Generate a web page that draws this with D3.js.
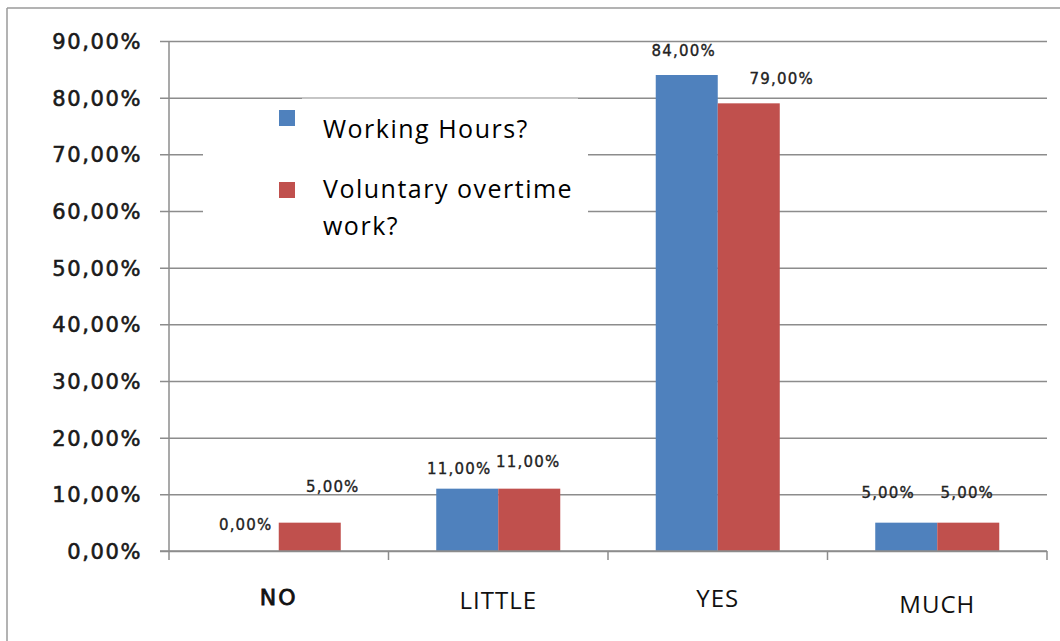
<!DOCTYPE html>
<html><head><meta charset="utf-8">
<script src="https://cdn.jsdelivr.net/npm/d3@7"></script>
<style>body{margin:0;background:#fff}svg{display:block}</style>
</head><body>
<svg id="c" width="1060" height="641"></svg>
<script>
const categories = ["NO", "LITTLE", "YES", "MUCH"];
const seriesNames = ["Working Hours?", "Voluntary overtime work?"];
const workingHours = [0.00, 0.11, 0.84, 0.05];
const voluntaryOvertime = [0.05, 0.11, 0.79, 0.05];
const yTicks = [0, 0.1, 0.2, 0.3, 0.4, 0.5, 0.6, 0.7, 0.8, 0.9];
const seriesValues = [workingHours, voluntaryOvertime];
const colors = ["#4F81BD", "#C0504D"];

// label nudges (layout only), per series per category: [dx, distance of text centre above bar top]
const labelNudge = [
  [[-2, 27], [-8, 20], [-3, 25], [-18, 30]],
  [[23, 36], [-1, 27], [33, 25], [-1, 30]]
];

const fmt = v => d3.format(".2f")(v * 100).replace(".", ",") + "%";

const svg = d3.select("#c");
const m = {l: 169, r: 1047, t: 41, b: 551};

// outer frame (top + left)
svg.append("line").attr("x1", 7).attr("x2", 1060).attr("y1", 8).attr("y2", 8).attr("stroke", "#9a9a9a").attr("stroke-width", 1.5);
svg.append("line").attr("x1", 7).attr("x2", 7).attr("y1", 8).attr("y2", 641).attr("stroke", "#9a9a9a").attr("stroke-width", 1.5);

const x0 = d3.scaleBand().domain(categories).range([m.l, m.r]).paddingInner(0.435).paddingOuter(0.2175);
const x1 = d3.scaleBand().domain([0, 1]).range([0, x0.bandwidth()]);
const y = d3.scaleLinear().domain([0, 0.9]).range([m.b, m.t]);

// gridlines with ticks
const yAxis = d3.axisLeft(y).tickValues(yTicks).tickSize(-(m.r - m.l)).tickFormat(fmt).tickPadding(0);
const gy = svg.append("g").attr("transform", `translate(${m.l},0)`).call(yAxis);
gy.select(".domain").remove();
gy.selectAll(".tick line").attr("x1", -9).attr("stroke", "#8c8c8c").attr("stroke-width", 1.5);
gy.selectAll(".tick text").attr("x", -27).attr("dy", "0.36em")
  .style("font-family", "DejaVu Sans").style("font-size", "21px").style("letter-spacing", "1.6px")
  .attr("fill", "#1a1a1a").attr("stroke", "#1a1a1a").attr("stroke-width", 0.6);

// y axis line
svg.append("line").attr("x1", m.l).attr("x2", m.l).attr("y1", m.t).attr("y2", m.b).attr("stroke", "#8c8c8c").attr("stroke-width", 1.5);

// legend white patches (cover gridlines)
svg.append("rect").attr("x", 302).attr("y", 98.5).attr("width", 276).attr("height", 150).attr("fill", "#fff");
svg.append("rect").attr("x", 203).attr("y", 110).attr("width", 385).attr("height", 140).attr("fill", "#fff");

// bars
const groups = svg.append("g").selectAll("g").data(categories).join("g")
  .attr("transform", d => `translate(${x0(d)},0)`);
groups.selectAll("rect").data((c, i) => seriesValues.map((s, k) => ({k, v: s[i]}))).join("rect")
  .attr("x", d => x1(d.k)).attr("width", x1.bandwidth())
  .attr("y", d => y(d.v)).attr("height", d => y(0) - y(d.v))
  .attr("fill", d => colors[d.k]);

// x axis
const xAxis = d3.axisBottom(x0).tickSize(0).tickFormat("");
const gx = svg.append("g").attr("transform", `translate(0,${m.b})`).call(xAxis);
gx.select(".domain").remove();
svg.append("line").attr("x1", 160).attr("x2", m.r).attr("y1", m.b).attr("y2", m.b).attr("stroke", "#8c8c8c").attr("stroke-width", 1.5);
const bounds = d3.range(categories.length + 1).map(i => m.l + i * (m.r - m.l) / categories.length);
svg.selectAll(".xt").data(bounds).join("line").attr("class", "xt")
  .attr("x1", d => d).attr("x2", d => d).attr("y1", m.b).attr("y2", m.b + 9)
  .attr("stroke", "#8c8c8c").attr("stroke-width", 1.5);

// category labels
svg.selectAll(".cat").data(categories).join("text").attr("class", "cat")
  .attr("x", d => x0(d) + x0.bandwidth() / 2)
  .attr("y", (d, i) => [605, 609, 607, 613][i])
  .attr("text-anchor", "middle")
  .style("font-family", (d, i) => i === 0 ? "DejaVu Sans" : "Open Sans")
  .style("font-size", (d, i) => i === 0 ? "22px" : "24px")
  .style("letter-spacing", (d, i) => i === 0 ? "2px" : "1px")
  .attr("fill", "#111")
  .attr("stroke", (d, i) => i === 0 ? "#111" : "none").attr("stroke-width", 0.8)
  .text(d => d);

// data labels
seriesValues.forEach((s, k) => {
  svg.selectAll(".dl" + k).data(s).join("text").attr("class", "dl" + k)
    .attr("x", (v, i) => x0(categories[i]) + x1(k) + x1.bandwidth() / 2 + labelNudge[k][i][0])
    .attr("y", (v, i) => y(v) - labelNudge[k][i][1] + 5.5)
    .attr("text-anchor", "middle")
    .style("font-family", "DejaVu Sans").style("font-size", "15px").style("letter-spacing", "1.2px")
    .attr("fill", "#222").attr("stroke", "#222").attr("stroke-width", 0.35)
    .text(v => fmt(v));
});

// legend
const lg = svg.append("g");
lg.append("rect").attr("x", 279).attr("y", 110).attr("width", 16).attr("height", 16).attr("fill", colors[0]);
lg.append("rect").attr("x", 279).attr("y", 182).attr("width", 16).attr("height", 16).attr("fill", colors[1]);
lg.append("text").attr("x", 323).attr("y", 138).text(seriesNames[0]);
const parts = ["Voluntary overtime", "work?"];
lg.append("text").attr("x", 323).attr("y", 198).text(parts[0]);
lg.append("text").attr("x", 323).attr("y", 235).text(parts[1]);
lg.selectAll("text").style("font-family", "Open Sans").style("font-size", "25px").style("letter-spacing", "1.5px").attr("fill", "#000");
</script>
</body></html>
